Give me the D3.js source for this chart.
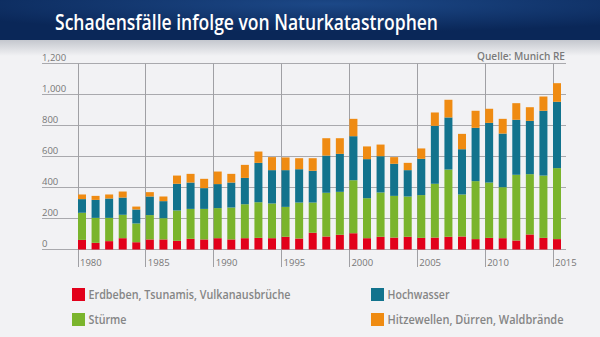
<!DOCTYPE html>
<html>
<head>
<meta charset="utf-8">
<script src="https://cdn.jsdelivr.net/npm/d3@7"></script>
<style>
  html, body { margin: 0; padding: 0; background: #f2f2f4; }
  svg { display: block; }
</style>
</head>
<body>
<div id="chart"></div>
<script>
// data (Schadensfälle pro Jahr)
const years = d3.range(1980, 2016)
const erdbeben = [62, 43, 54, 73, 47, 65, 65, 56, 69, 65, 73, 65, 73, 75, 73, 82, 71, 108, 84, 95, 105, 73, 82, 77, 82, 75, 77, 82, 84, 67, 75, 73, 58, 97, 75, 67]
const stuerme = [175, 161, 150, 151, 121, 157, 137, 196, 193, 197, 194, 206, 219, 230, 224, 193, 232, 195, 282, 277, 342, 258, 286, 269, 260, 276, 347, 434, 271, 374, 357, 329, 424, 389, 402, 458]
const hochwasser = [88, 116, 125, 111, 90, 120, 110, 172, 170, 134, 155, 161, 170, 254, 215, 237, 215, 205, 240, 245, 284, 252, 234, 207, 170, 234, 374, 336, 292, 344, 385, 346, 355, 344, 418, 428]
const hitze = [30, 26, 26, 39, 19, 28, 30, 53, 56, 60, 81, 56, 84, 73, 84, 82, 71, 81, 112, 101, 112, 82, 75, 43, 47, 67, 86, 114, 99, 110, 91, 95, 107, 88, 92, 120]

const seriesKeys = ['erdbeben', 'stuerme', 'hochwasser', 'hitze']
const seriesNames = ['Erdbeben, Tsunamis, Vulkanausbrüche', 'Stürme', 'Hochwasser', 'Hitzewellen, Dürren, Waldbrände']
const seriesColors = ['#e2001a', '#7ab42c', '#12738d', '#ef8b12']
const yTicks = [0, 200, 400, 600, 800, 1000, 1200]
const xTicks = [1980, 1985, 1990, 1995, 2000, 2005, 2010, 2015]

const width = 600, height = 337

const table = years.map((y, i) => ({
  year: y,
  erdbeben: erdbeben[i],
  stuerme: stuerme[i],
  hochwasser: hochwasser[i],
  hitze: hitze[i]
}))

const svg = d3.select('#chart').append('svg')
  .attr('width', width)
  .attr('height', height)

const defs = svg.append('defs')
const headGrad = defs.append('radialGradient')
  .attr('id', 'head')
  .attr('cx', '55%').attr('cy', '10%').attr('r', '70%')
headGrad.append('stop').attr('offset', '0%').attr('stop-color', '#1c4887')
headGrad.append('stop').attr('offset', '100%').attr('stop-color', '#0a2758')

const shadow = defs.append('linearGradient')
  .attr('id', 'shadow')
  .attr('x1', 0).attr('y1', 0).attr('x2', 0).attr('y2', 1)
shadow.append('stop').attr('offset', '0%').attr('stop-color', '#c4c7ce')
shadow.append('stop').attr('offset', '100%').attr('stop-color', '#f2f2f4')

svg.append('rect')
  .attr('width', width).attr('height', height)
  .attr('fill', '#f2f2f4')

svg.append('rect')
  .attr('x', 0).attr('y', 40)
  .attr('width', width).attr('height', 16)
  .attr('fill', 'url(#shadow)')

svg.append('rect')
  .attr('width', width).attr('height', 40)
  .attr('fill', 'url(#head)')

svg.append('text')
  .attr('x', 55).attr('y', 29.5)
  .attr('fill', '#fff')
  .attr('font-family', 'Open Sans')
  .attr('font-weight', 600)
  .attr('font-size', 22)
  .attr('textLength', 383)
  .attr('lengthAdjust', 'spacingAndGlyphs')
  .text('Schadensfälle infolge von Naturkatastrophen')

svg.append('text')
  .attr('x', 565).attr('y', 59.5)
  .attr('text-anchor', 'end')
  .attr('fill', '#7a7a7a')
  .attr('font-family', 'Open Sans')
  .attr('font-weight', 600)
  .attr('font-size', 11)
  .attr('textLength', 88)
  .attr('lengthAdjust', 'spacingAndGlyphs')
  .text('Quelle: Munich RE')

// scales
const x = d3.scaleLinear().domain([1980, 2015]).range([77.5, 552.5])
const y = d3.scaleLinear().domain([0, 1200]).range([249.5, 63.5])
const color = d3.scaleOrdinal().domain(seriesKeys).range(seriesColors)
const barW = 8

// horizontal grid
const grid = svg.append('g')
grid.selectAll('line.h')
  .data(yTicks)
  .enter().append('line')
  .attr('class', 'h')
  .attr('x1', 42).attr('x2', 566)
  .attr('y1', d => y(d)).attr('y2', d => y(d))
  .attr('stroke', '#a9a9ad')
  .attr('stroke-width', 1)

grid.selectAll('text.yl')
  .data(yTicks)
  .enter().append('text')
  .attr('class', 'yl')
  .attr('x', 42)
  .attr('y', d => y(d) - 3)
  .attr('fill', '#777')
  .attr('font-family', 'Open Sans')
  .attr('font-size', 9.5)
  .text(d => d3.format(',')(d))

// vertical year lines
grid.selectAll('line.v')
  .data(xTicks)
  .enter().append('line')
  .attr('class', 'v')
  .attr('x1', d => Math.round(x(d)) + 0.5).attr('x2', d => Math.round(x(d)) + 0.5)
  .attr('y1', y(1200)).attr('y2', 267)
  .attr('stroke', '#a0a0a4')
  .attr('stroke-width', 1)

grid.selectAll('text.xl')
  .data(xTicks)
  .enter().append('text')
  .attr('class', 'xl')
  .attr('x', d => x(d) + 2.5)
  .attr('y', 266)
  .attr('fill', '#777')
  .attr('font-family', 'Open Sans')
  .attr('font-size', 9.5)
  .text(d => d)

// stacked bars
const stack = d3.stack().keys(seriesKeys)
const layers = svg.append('g').selectAll('g')
  .data(stack(table))
  .enter().append('g')
  .attr('fill', d => color(d.key))

layers.selectAll('rect')
  .data(d => d)
  .enter().append('rect')
  .attr('x', d => x(d.data.year) + 0.5)
  .attr('width', barW)
  .attr('y', d => y(d[1]))
  .attr('height', d => y(d[0]) - y(d[1]))

// legend
const legendPos = [[72, 288], [72, 313], [371, 288], [371, 313]]
const legendOrder = [0, 1, 2, 3]
const legendW = [202, 38, 62, 176]
const legend = svg.append('g').selectAll('g')
  .data(legendOrder)
  .enter().append('g')
  .attr('transform', i => 'translate(' + legendPos[i][0] + ',' + legendPos[i][1] + ')')

legend.append('rect')
  .attr('width', 13).attr('height', 13)
  .attr('fill', i => seriesColors[i])

legend.append('text')
  .attr('x', 16.5).attr('y', 11)
  .attr('fill', '#858585')
  .attr('font-family', 'Open Sans')
  .attr('font-weight', 600)
  .attr('font-size', 12.5)
  .attr('textLength', i => legendW[i])
  .attr('lengthAdjust', 'spacingAndGlyphs')
  .text(i => seriesNames[i])
</script>
</body>
</html>
